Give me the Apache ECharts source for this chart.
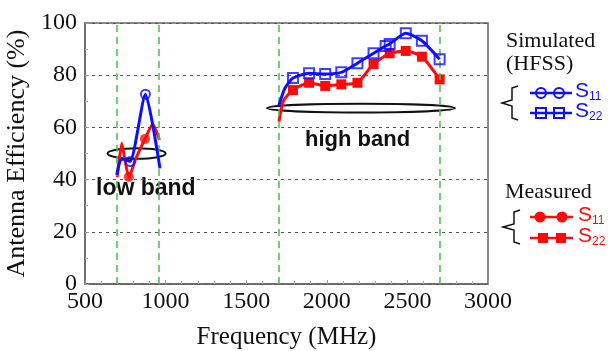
<!DOCTYPE html>
<html>
<head>
<meta charset="utf-8">
<script src="https://cdn.jsdelivr.net/npm/echarts@6/dist/echarts.min.js"></script>
<style>
  html, body { margin: 0; padding: 0; background: #fff; }
  #chart { width: 608px; height: 351px; }
</style>
</head>
<body>
<div id="chart"></div>
<script>
// ---- data ----
// low band, S11 (simulated = blue, measured = red)
const s11SimF = [697, 720, 745, 780, 875, 965];
const s11SimE = [41.8, 47.5, 47.8, 46.9, 72.7, 44.3];
const s11SimMarkF = [780, 875];
const s11SimMarkE = [46.9, 72.7];

const s11MeasF = [700, 728, 748, 772, 815, 872, 920, 962];
const s11MeasE = [41.0, 53.9, 47.5, 41.0, 48.0, 55.6, 61.2, 55.2];
const s11MeasMarkF = [772, 872];
const s11MeasMarkE = [41.0, 55.6];

// high band, S22
const s22SimF = [1700, 1740, 1790, 1890, 1990, 2090, 2190, 2290, 2365, 2390, 2490, 2590, 2700];
const s22SimE = [67.9, 75.0, 78.9, 80.7, 80.5, 81.1, 84.6, 88.4, 91.2, 92.0, 96.1, 93.2, 86.1];
const s22SimMarkF = [1790, 1890, 1990, 2090, 2190, 2290, 2365, 2390, 2490, 2590, 2700];
const s22SimMarkE = [78.9, 80.7, 80.5, 81.1, 84.6, 88.4, 91.2, 92.0, 96.1, 93.2, 86.1];

const s22MeasF = [1703, 1730, 1790, 1890, 1990, 2090, 2190, 2290, 2390, 2490, 2590, 2700];
const s22MeasE = [62.2, 70.0, 74.3, 77.1, 75.9, 76.5, 77.1, 84.3, 88.4, 89.3, 87.1, 78.4];

// band edges (green dashed lines)
const bandEdges = [700, 960, 1700, 2700];
// band ellipses: [centre MHz, centre %, half-width MHz, half-height %]
const bandEllipses = [[820, 50.0, 180, 2.0], [2212, 67.4, 583, 1.7]];

const BLUE = "#0f0fff";
const RED = "#ff0a0a";
const pairs = (xs, ys) => xs.map((x, i) => [x, ys[i]]);

const chart = echarts.init(document.getElementById("chart"));

const serif = "Liberation Serif";
const sans = "Liberation Sans";

// S11 / S22 style label with subscript
const sLabel = (x, y, sub, color) => ({
  type: "text", left: x, top: y,
  style: {
    text: "S{sub|" + sub + "}", font: "21px " + sans, fill: color,
    rich: { sub: { fontSize: 12, fontFamily: sans, fill: color, padding: [10, 0, 0, 0] } },
  },
});

const option = {
  animation: false,
  grid: {
    left: 85, right: 120, top: 23, bottom: 67,
    outerBoundsMode: "none",
    show: true, borderColor: "#666", borderWidth: 1.5,
  },
  xAxis: {
    type: "value",
    min: 500, max: 3000, interval: 500,
    name: "Frequency (MHz)",
    nameLocation: "middle",
    nameGap: 41,
    nameTextStyle: { fontFamily: serif, fontSize: 25, color: "#111" },
    axisLine: { show: true, lineStyle: { color: "#666", width: 1.5 } },
    axisTick: { show: true, inside: true, length: 4, lineStyle: { color: "#999" } },
    minorTick: { show: true, splitNumber: 5, length: 3, lineStyle: { color: "#aaa" } },
    axisLabel: { fontFamily: serif, fontSize: 24, color: "#111", margin: 6, formatter: (v) => String(v) },
    splitLine: { show: false },
  },
  yAxis: {
    type: "value",
    min: 0, max: 100, interval: 20,
    name: "Antenna Efficiency (%)",
    nameLocation: "middle",
    nameGap: 52,
    nameTextStyle: { fontFamily: serif, fontSize: 26, color: "#111" },
    axisLine: { show: true, lineStyle: { color: "#666", width: 1.5 } },
    axisTick: { show: true, inside: true, length: 4, lineStyle: { color: "#999" } },
    minorTick: { show: true, splitNumber: 2, length: 3, lineStyle: { color: "#aaa" } },
    axisLabel: { fontFamily: serif, fontSize: 24, color: "#111", margin: 8 },
    splitLine: { show: true, lineStyle: { color: "#555", type: [3, 4], width: 1.2 } },
  },
  series: [
    {
      type: "line", data: [], z: 1, silent: true,
      markLine: {
        silent: true, symbol: "none", label: { show: false },
        lineStyle: { color: "#3fc43f", type: [7, 5], width: 1.5 },
        data: bandEdges.map((f) => ({ xAxis: f })),
      },
    },
    {
      type: "custom", z: 2, silent: true,
      data: bandEllipses,
      renderItem: (params, api) => {
        const c = api.coord([api.value(0), api.value(1)]);
        const s = api.size([api.value(2), api.value(3)]);
        return {
          type: "ellipse",
          shape: { cx: c[0], cy: c[1], rx: s[0], ry: s[1] },
          style: { fill: null, stroke: "#111", lineWidth: 2 },
        };
      },
    },
    // measured S11 (red, low band)
    {
      type: "line", z: 3, smooth: 0.2, showSymbol: false,
      data: pairs(s11MeasF, s11MeasE),
      lineStyle: { color: RED, width: 3 },
    },
    {
      type: "scatter", z: 4, symbol: "circle", symbolSize: 10,
      data: pairs(s11MeasMarkF, s11MeasMarkE),
      itemStyle: { color: RED },
    },
    // measured S22 (red, high band)
    {
      type: "line", z: 3, smooth: 0.2,
      symbol: "rect", symbolSize: 10, showSymbol: true,
      data: pairs(s22MeasF, s22MeasE).map((p, i) => i < 2 ? { value: p, symbol: "none" } : p),
      lineStyle: { color: RED, width: 3 },
      itemStyle: { color: RED },
    },
    // simulated S11 (blue, low band)
    {
      type: "line", z: 5, smooth: 0.2, showSymbol: false,
      data: pairs(s11SimF, s11SimE),
      lineStyle: { color: BLUE, width: 3 },
    },
    {
      type: "scatter", z: 6, symbol: "circle", symbolSize: 9,
      data: pairs(s11SimMarkF, s11SimMarkE),
      itemStyle: { color: "rgba(0,0,0,0)", borderColor: BLUE, borderWidth: 2 },
    },
    // simulated S22 (blue, high band)
    {
      type: "line", z: 5, smooth: 0.2, showSymbol: false,
      data: pairs(s22SimF, s22SimE),
      lineStyle: { color: BLUE, width: 3 },
    },
    {
      type: "scatter", z: 6, symbol: "rect", symbolSize: 10,
      data: pairs(s22SimMarkF, s22SimMarkE),
      itemStyle: { color: "rgba(0,0,0,0)", borderColor: BLUE, borderWidth: 2 },
    },
  ],
  graphic: [
    // band labels
    { type: "text", left: 96, top: 177, style: { text: "low band", font: "bold 23px " + sans, fill: "#111" } },
    { type: "text", left: 305, top: 129, style: { text: "high band", font: "bold 22px " + sans, fill: "#111" } },

    // legend: Simulated (HFSS)
    { type: "text", left: 506, top: 30, style: { text: "Simulated", font: "22px " + serif, fill: "#111" } },
    { type: "text", left: 506, top: 53, style: { text: "(HFSS)", font: "22px " + serif, fill: "#111" } },
    { type: "polyline", shape: { points: [[518, 86], [512, 88], [512, 100], [502, 103], [512, 106], [512, 118], [518, 120]] },
      style: { fill: null, stroke: "#111", lineWidth: 1.5 } },
    { type: "line", shape: { x1: 530, y1: 93, x2: 572, y2: 93 }, style: { stroke: BLUE, lineWidth: 2.5 } },
    { type: "circle", shape: { cx: 541, cy: 93, r: 5 }, style: { fill: null, stroke: BLUE, lineWidth: 2 } },
    { type: "circle", shape: { cx: 559, cy: 93, r: 5 }, style: { fill: null, stroke: BLUE, lineWidth: 2 } },
    sLabel(575, 81, "11", BLUE),
    { type: "line", shape: { x1: 530, y1: 113, x2: 572, y2: 113 }, style: { stroke: BLUE, lineWidth: 2.5 } },
    { type: "rect", shape: { x: 536, y: 108, width: 10, height: 10 }, style: { fill: null, stroke: BLUE, lineWidth: 2 } },
    { type: "rect", shape: { x: 554, y: 108, width: 10, height: 10 }, style: { fill: null, stroke: BLUE, lineWidth: 2 } },
    sLabel(575, 101, "22", BLUE),

    // legend: Measured
    { type: "text", left: 505, top: 181, style: { text: "Measured", font: "22px " + serif, fill: "#111" } },
    { type: "polyline", shape: { points: [[520, 210], [514, 212], [514, 224], [503, 227], [514, 230], [514, 242], [520, 244]] },
      style: { fill: null, stroke: "#111", lineWidth: 1.5 } },
    { type: "line", shape: { x1: 530, y1: 217, x2: 573, y2: 217 }, style: { stroke: RED, lineWidth: 2.5 } },
    { type: "circle", shape: { cx: 540, cy: 217, r: 5.5 }, style: { fill: RED } },
    { type: "circle", shape: { cx: 562, cy: 217, r: 5.5 }, style: { fill: RED } },
    sLabel(578, 205, "11", RED),
    { type: "line", shape: { x1: 530, y1: 238, x2: 573, y2: 238 }, style: { stroke: RED, lineWidth: 2.5 } },
    { type: "rect", shape: { x: 538, y: 233, width: 10, height: 10 }, style: { fill: RED } },
    { type: "rect", shape: { x: 556, y: 233, width: 10, height: 10 }, style: { fill: RED } },
    sLabel(578, 226, "22", RED),
  ],
};

chart.setOption(option);
</script>
</body>
</html>
